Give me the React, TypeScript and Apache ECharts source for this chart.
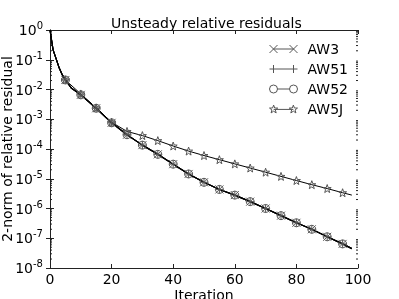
import React, { useEffect, useRef } from 'react';
import * as echarts from 'echarts';

const TITLE = 'Unsteady relative residuals';
const X_LABEL = 'Iteration';
const Y_LABEL = '2-norm of relative residual';
const NAMES = ['AW3', 'AW51', 'AW52', 'AW5J'];
const X_TICKS = [0, 20, 40, 60, 80, 100];

// iterations where values were read for AW3 / AW51 / AW52 (overlapping curves)
const ITER_A = [0, 1, 2, 3, 4, 5, 7, 10, 15, 20, 25, 30, 35, 40, 45, 50, 55, 60, 65, 70, 75, 80, 85, 90, 95, 98];
const AW3 = [1, 0.214, 0.107, 0.0525, 0.0309, 0.0209, 0.011, 0.00661, 0.00234, 7.59e-4, 3.02e-4, 1.35e-4, 6.61e-5, 3.09e-5, 1.45e-5, 7.59e-6, 4.37e-6, 2.82e-6, 1.7e-6, 1.0e-6, 5.75e-7, 3.31e-7, 2.0e-7, 1.12e-7, 6.46e-8, 4.47e-8];
const AW51 = [1, 0.214, 0.107, 0.0525, 0.0309, 0.0209, 0.011, 0.00661, 0.00234, 7.59e-4, 3.02e-4, 1.35e-4, 6.61e-5, 3.09e-5, 1.45e-5, 7.59e-6, 4.37e-6, 2.82e-6, 1.7e-6, 1.0e-6, 5.75e-7, 3.31e-7, 2.0e-7, 1.12e-7, 6.46e-8, 4.47e-8];
const AW52 = [1, 0.214, 0.107, 0.0525, 0.0309, 0.0209, 0.011, 0.00661, 0.00234, 7.59e-4, 3.02e-4, 1.35e-4, 6.61e-5, 3.09e-5, 1.45e-5, 7.59e-6, 4.37e-6, 2.82e-6, 1.7e-6, 1.0e-6, 5.75e-7, 3.31e-7, 2.0e-7, 1.12e-7, 6.46e-8, 4.47e-8];

// iterations where values were read for AW5J
const ITER_J = [0, 1, 2, 3, 4, 5, 10, 15, 20, 25, 30, 35, 40, 45, 50, 55, 60, 65, 70, 75, 80, 85, 90, 95, 98];
const AW5J = [1, 0.214, 0.107, 0.0525, 0.0309, 0.0209, 0.00708, 0.0024, 7.94e-4, 3.89e-4, 2.82e-4, 1.91e-4, 1.26e-4, 8.51e-5, 6.03e-5, 4.37e-5, 3.16e-5, 2.29e-5, 1.66e-5, 1.2e-5, 8.71e-6, 6.31e-6, 4.68e-6, 3.39e-6, 2.82e-6];

// log-axis minor tick multipliers and decades
const MINOR_MULT = [2, 3, 4, 5, 6, 7, 8, 9];
const DECADES = [-8, -7, -6, -5, -4, -3, -2, -1];

const FONT = 'DejaVu Sans';
const MARK = '#555';

function starPath(cx: number, cy: number, R: number, r: number) {
  const pts: string[] = [];
  for (let k = 0; k < 10; k++) {
    const rad = k % 2 === 0 ? R : r;
    const a = (-90 + k * 36) * Math.PI / 180;
    pts.push((k === 0 ? 'M' : 'L') + (cx + rad * Math.cos(a)).toFixed(2) + ',' + (cy + rad * Math.sin(a)).toFixed(2));
  }
  return pts.join('') + 'Z';
}

const SYM_X = 'path://M0,0L8,8M0,8L8,0';
const SYM_PLUS = 'path://M0,4L8,4M4,0L4,8';
const SYM_STAR = 'path://' + starPath(4, 4.4, 4.4, 1.8);

const LEG_X = 'path://M0,0L8,8M0,8L8,0M20,0L28,8M20,8L28,0M4,4L24,4';
const LEG_PLUS = 'path://M0,4L28,4M4,0L4,8M24,0L24,8';
const LEG_CIRCLE = 'path://M0,4A4,4 0 1,1 8,4A4,4 0 1,1 0,4M8,4L20,4M20,4A4,4 0 1,1 28,4A4,4 0 1,1 20,4';
const LEG_STAR = 'path://' + starPath(4, 4.4, 4.4, 1.8) + 'M4,4.4L24,4.4' + starPath(24, 4.4, 4.4, 1.8);

function pairs(xs: number[], ys: number[]) {
  return xs.map((x, i) => [x, ys[i]]);
}

export default function App() {
  const ref = useRef<HTMLDivElement>(null);
  useEffect(() => {
    if (!ref.current) return;
    const chart = echarts.init(ref.current, null, { renderer: 'svg' });
    const minorVals: number[][] = [];
    DECADES.forEach((d) => MINOR_MULT.forEach((m) => minorVals.push([0, m * Math.pow(10, d)])));

    const symAt = (sym: string) => (v: number[]) => (v[0] > 0 && v[0] % 5 === 0 ? sym : 'none');
    const mkSeries = (name: string, data: number[][], sym: string, width: number) => ({
      name,
      type: 'line',
      data,
      symbol: symAt(sym),
      symbolSize: 8,
      lineStyle: { color: '#000', width },
      itemStyle: { color: 'transparent', borderColor: MARK, borderWidth: 1 },
      emphasis: { disabled: true },
      z: 3,
    });
    const legItem = (name: string, icon: string) => ({
      name,
      icon,
      itemStyle: { color: 'transparent', borderColor: MARK, borderWidth: 1 },
    });

    const axisCommon = {
      axisLine: { show: true, lineStyle: { color: '#222', width: 1 } },
      axisTick: { show: true, inside: true, length: 4, lineStyle: { color: '#222' } },
      splitLine: { show: false },
    };

    chart.setOption({
      animation: false,
      textStyle: { fontFamily: FONT },
      title: {
        text: TITLE,
        left: 111,
        top: 16,
        padding: 0,
        textStyle: { fontFamily: FONT, fontSize: 14, fontWeight: 'normal', color: '#000' },
      },
      legend: {
        orient: 'vertical',
        left: 269,
        top: 41,
        padding: 0,
        itemWidth: 28,
        itemHeight: 8,
        itemGap: 4,
        selectedMode: false,
        textStyle: { fontFamily: FONT, fontSize: 14, color: '#000', lineHeight: 16, padding: [0, 0, 0, 5] },
        data: [legItem('AW3', LEG_X), legItem('AW51', LEG_PLUS), legItem('AW52', LEG_CIRCLE), legItem('AW5J', LEG_STAR)],
      },
      grid: { left: 50, right: 41, top: 30, bottom: 31, containLabel: false, outerBoundsMode: 'none' },
      xAxis: [
        {
          type: 'value',
          min: 0,
          max: 100,
          interval: 20,
          name: X_LABEL,
          nameLocation: 'middle',
          nameGap: 20,
          nameMoveOverlap: false,
          nameTextStyle: { fontFamily: FONT, fontSize: 14, color: '#000' },
          axisLabel: {
            fontFamily: FONT,
            fontSize: 14,
            color: '#000',
            margin: 4,
            formatter: (v: number) => (X_TICKS.includes(v) ? String(v) : ''),
          },
          ...axisCommon,
        },
        {
          type: 'value',
          position: 'top',
          min: 0,
          max: 100,
          interval: 20,
          axisLabel: { show: false },
          ...axisCommon,
        },
      ],
      yAxis: [
        {
          type: 'log',
          logBase: 10,
          min: 1e-8,
          max: 1,
          interval: 1,
          name: Y_LABEL,
          nameLocation: 'middle',
          nameRotate: 90,
          nameGap: 36,
          nameMoveOverlap: false,
          nameTextStyle: { fontFamily: FONT, fontSize: 14, color: '#000' },
          axisLabel: {
            margin: 7,
            formatter: (v: number) => `{b|10}{s|${Math.round(Math.log10(v))}}`,
            rich: {
              b: { fontFamily: FONT, fontSize: 14, color: '#000' },
              s: { fontFamily: FONT, fontSize: 10, color: '#000', padding: [0, 0, 9, 0] },
            },
          },
          ...axisCommon,
        },
        {
          type: 'log',
          logBase: 10,
          min: 1e-8,
          max: 1,
          interval: 1,
          position: 'right',
          axisLabel: { show: false },
          ...axisCommon,
        },
      ],
      series: [
        mkSeries('AW3', pairs(ITER_A, AW3), SYM_X, 1.2),
        mkSeries('AW51', pairs(ITER_A, AW51), SYM_PLUS, 1.2),
        mkSeries('AW52', pairs(ITER_A, AW52), 'circle', 1.2),
        mkSeries('AW5J', pairs(ITER_J, AW5J), SYM_STAR, 1),
        {
          type: 'custom',
          silent: true,
          xAxisIndex: 0,
          yAxisIndex: 0,
          data: minorVals,
          renderItem: (params: any, api: any) => {
            const y = api.coord([0, api.value(1)])[1];
            const cs = params.coordSys;
            return {
              type: 'group',
              children: [
                { type: 'line', shape: { x1: cs.x, y1: y, x2: cs.x + 2, y2: y }, style: { stroke: '#222', lineWidth: 1 } },
                { type: 'line', shape: { x1: cs.x + cs.width - 2, y1: y, x2: cs.x + cs.width, y2: y }, style: { stroke: '#222', lineWidth: 1 } },
              ],
            };
          },
        },
      ],
    });
    return () => chart.dispose();
  }, []);
  return <div ref={ref} style={{ position: 'fixed', left: 0, top: 0, width: 399, height: 299 }} />;
}
